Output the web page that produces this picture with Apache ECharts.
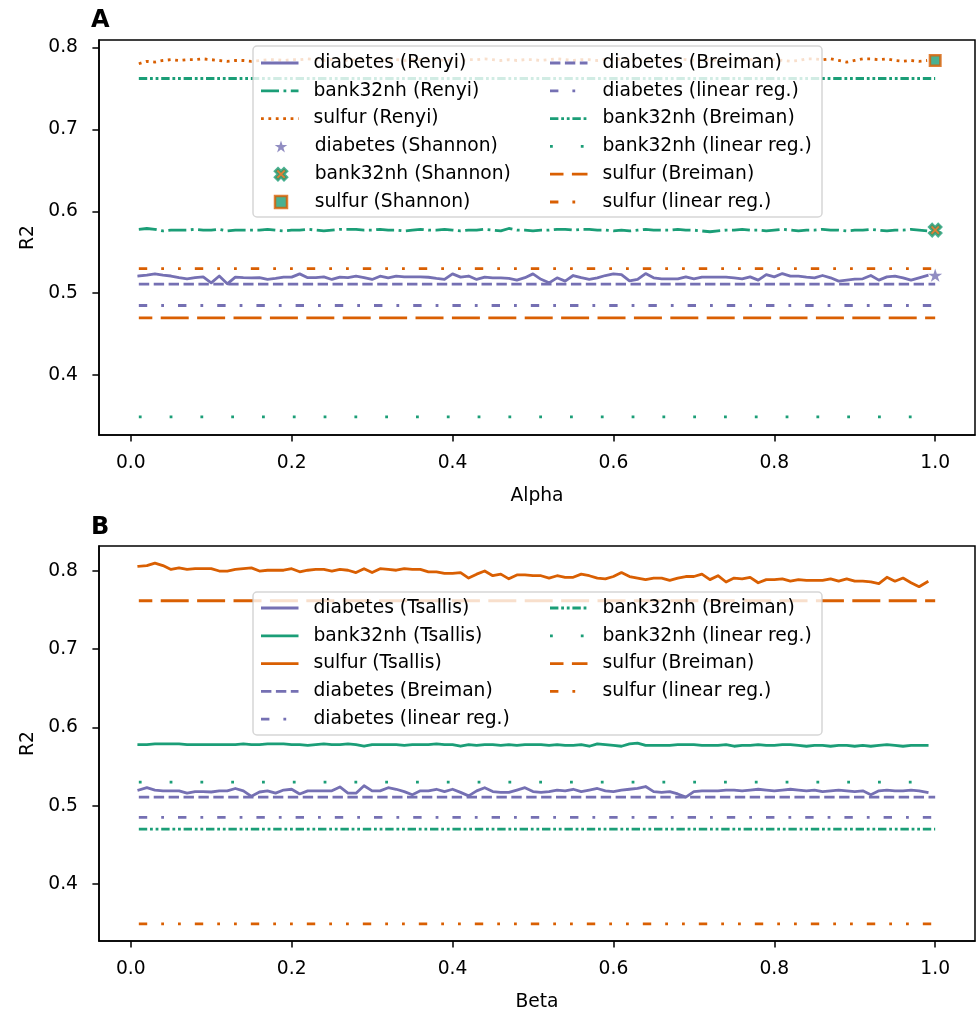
<!DOCTYPE html>
<html>
<head>
<meta charset="utf-8">
<script src="https://cdn.jsdelivr.net/npm/echarts@6/dist/echarts.min.js"></script>
<style>
  html, body { margin: 0; padding: 0; background: #fff; }
  #chart { width: 977px; height: 1015px; }
</style>
</head>
<body>
<div id="chart"></div>
<script>
// ---- data ----
var xTicks = [0, 0.2, 0.4, 0.6, 0.8, 1.0];
var yTicks = [0.4, 0.5, 0.6, 0.7, 0.8];
var constX = [0.01, 1.0];      // span of the reference (constant) lines
var shannonX = 1.0;

// parameter grid 0.01 .. 0.99
var grid01 = [];
for (var i = 1; i <= 99; i++) grid01.push(i / 100);

// Panel A (alpha)
var diabetesRenyi = [
  .521,.522,.5236,.522,.521,.519,.5176,.519,.520,.5127,
  .521,.5115,.5196,.519,.5188,.519,.5168,.518,.5196,.5196,
  .5236,.519,.519,.520,.5168,.5196,.519,.5208,.519,.5168,
  .5208,.5188,.5208,.520,.520,.520,.5195,.518,.5168,.5236,
  .5196,.521,.5168,.5196,.5188,.5188,.518,.516,.519,.5236,
  .517,.5127,.5188,.5148,.5216,.519,.5168,.5188,.5216,.5236,
  .5228,.515,.5168,.524,.5188,.5176,.5176,.5176,.520,.5176,
  .5196,.5196,.5196,.5196,.5188,.5176,.520,.516,.5228,.520,
  .524,.5208,.5208,.5196,.5188,.5216,.5188,.5148,.516,.5172,
  .5176,.5216,.516,.520,.5208,.5188,.516,.5188,.5216
];
var bank32nhRenyi = [
  .578,.579,.578,.576,.577,.577,.577,.578,.577,.577,
  .578,.576,.577,.577,.577,.577,.578,.577,.576,.577,
  .577,.578,.577,.576,.577,.578,.578,.578,.577,.577,
  .578,.577,.577,.576,.577,.578,.577,.577,.578,.577,
  .576,.577,.577,.578,.577,.576,.579,.577,.577,.576,
  .577,.577,.578,.578,.577,.578,.578,.577,.577,.576,
  .577,.576,.577,.578,.577,.577,.577,.578,.577,.577,
  .576,.575,.576,.577,.577,.578,.577,.577,.576,.577,
  .578,.577,.576,.577,.577,.578,.577,.577,.576,.577,
  .577,.578,.577,.576,.577,.577,.578,.577,.576
];
var sulfurRenyi = [
  .780,.783,.782,.784,.785,.784,.785,.785,.786,.785,
  .784,.783,.784,.784,.783,.784,.785,.785,.784,.785,
  .785,.786,.785,.784,.785,.785,.784,.785,.786,.785,
  .785,.784,.785,.784,.785,.785,.786,.785,.784,.785,
  .784,.785,.785,.786,.785,.784,.785,.784,.785,.785,
  .784,.785,.786,.785,.784,.785,.785,.784,.785,.785,
  .786,.785,.784,.785,.785,.784,.785,.786,.785,.784,
  .785,.785,.784,.785,.786,.785,.785,.784,.785,.785,
  .784,.783,.784,.786,.786,.785,.786,.784,.782,.784,
  .786,.786,.785,.786,.784,.783,.784,.783,.784
];
var shannonA = [0.522, 0.577, 0.784];   // diabetes, bank32nh, sulfur
var breimanA = [0.511, 0.762, 0.470];   // diabetes, bank32nh, sulfur
var linearA = [0.485, 0.349, 0.530];    // diabetes, bank32nh, sulfur

// Panel B (beta)
var diabetesTsallis = [
  .520,.523,.520,.519,.519,.519,.516,.518,.518,.5175,
  .519,.519,.522,.519,.512,.5175,.519,.516,.520,.521,
  .515,.519,.519,.519,.519,.524,.516,.516,.5255,.519,
  .519,.523,.521,.518,.514,.519,.519,.521,.518,.521,
  .517,.5125,.519,.523,.518,.517,.517,.520,.523,.518,
  .517,.518,.520,.519,.521,.518,.520,.522,.519,.518,
  .520,.521,.522,.5245,.518,.517,.518,.515,.511,.518,
  .519,.519,.519,.520,.520,.519,.520,.521,.520,.519,
  .520,.521,.520,.519,.520,.518,.519,.520,.519,.518,
  .519,.514,.519,.520,.519,.519,.520,.519,.517
];
var bank32nhTsallis = [
  .578,.578,.579,.579,.579,.579,.578,.578,.578,.578,
  .578,.578,.578,.579,.578,.578,.579,.579,.579,.578,
  .578,.577,.578,.579,.578,.578,.579,.578,.576,.578,
  .578,.578,.578,.577,.578,.578,.578,.579,.578,.578,
  .576,.578,.577,.578,.578,.577,.578,.577,.578,.578,
  .578,.577,.578,.577,.577,.578,.576,.579,.578,.577,
  .576,.579,.580,.577,.577,.577,.577,.578,.578,.578,
  .577,.577,.577,.578,.576,.577,.577,.578,.577,.577,
  .578,.578,.577,.576,.577,.577,.576,.577,.577,.576,
  .577,.576,.577,.578,.577,.576,.577,.577,.577
];
var sulfurTsallis = [
  .806,.807,.810,.807,.802,.804,.802,.803,.803,.803,
  .800,.800,.802,.803,.804,.800,.801,.801,.801,.803,
  .799,.801,.802,.802,.800,.802,.801,.798,.803,.798,
  .803,.802,.801,.803,.802,.802,.799,.799,.797,.797,
  .798,.791,.796,.800,.794,.796,.790,.795,.795,.794,
  .794,.791,.794,.792,.792,.796,.794,.791,.790,.793,
  .798,.793,.791,.789,.791,.791,.788,.791,.793,.793,
  .796,.789,.794,.786,.791,.790,.792,.785,.789,.789,
  .790,.787,.789,.788,.788,.788,.790,.787,.790,.787,
  .787,.786,.784,.792,.787,.791,.785,.780,.786
];
var breimanB = [0.511, 0.470, 0.762];   // diabetes, bank32nh, sulfur
var linearB = [0.485, 0.530, 0.349];    // diabetes, bank32nh, sulfur

// ---- styles ----
var C_DIAB = '#7570b3', C_BANK = '#1b9e77', C_SULF = '#d95f02';
var FONT = 'DejaVu Sans', FS = 18.7, LW = 2.8, HANDLE = 37.5;
var D_DASH = [10.4, 4.5];
var D_DASHDOT = [18, 4.5, 2.8, 4.5];
var D_DOT = [2.8, 4.6];
var D_LONG = [28, 8.4], D_LONG_OFF = 14.5;
var D_DASH_DOT = [8.4, 14, 2.8, 14];
var D_DASH_DOTDOT = [8.4, 14, 2.8, 14, 2.8, 14];
var D_TIGHT = [8.4, 2.8, 2.8, 2.8, 2.8, 2.8];
var D_SPARSE = [2.8, 28];

function zip(xs, ys) { return ys.map(function(y, k) { return [xs[k], y]; }); }
function flat(v) { return [[constX[0], v], [constX[1], v]]; }

// legend handle: dash pattern drawn as filled rectangles
function dashIcon(pattern, offset) {
  var h = LW, d = '';
  if (!pattern) {
    d = 'M0,0H' + HANDLE + 'V' + h + 'H0Z';
  } else {
    var x = -(offset || 0), k = 0;
    while (x < HANDLE) {
      var len = pattern[k % pattern.length];
      if (k % 2 === 0) {
        var a = Math.max(x, 0), b = Math.min(x + len, HANDLE);
        if (b > a) d += 'M' + a + ',0H' + b + 'V' + h + 'H' + a + 'Z';
      }
      x += len; k++;
    }
  }
  d += 'M0,0L0,' + h + 'ZM' + HANDLE + ',0L' + HANDLE + ',' + h + 'Z';
  return 'path://' + d;
}
function starPath() {
  var pts = [];
  for (var k = 0; k < 10; k++) {
    var r = k % 2 ? 0.382 : 1, a = Math.PI / 2 + k * Math.PI / 5;
    pts.push((10 + 10 * r * Math.cos(a)).toFixed(2) + ',' + (10 - 10 * r * Math.sin(a)).toFixed(2));
  }
  return 'path://M' + pts.join('L') + 'Z';
}
var STAR = starPath();
var XMARK = 'path://M2.5,0L5,2.5L7.5,0L10,2.5L7.5,5L10,7.5L7.5,10L5,7.5L2.5,10L0,7.5L2.5,5L0,2.5Z';
var SQUARE = 'path://M0,0H10V10H0Z';

function line(name, g, data, color, dash, offset) {
  return {
    name: name, type: 'line', xAxisIndex: g, yAxisIndex: g, data: data,
    symbol: 'none', showSymbol: false, silent: true, z: 2,
    itemStyle: { color: color },
    lineStyle: { color: color, width: LW, type: dash || 'solid', dashOffset: offset || 0,
                 cap: dash ? 'butt' : 'square', join: 'round' }
  };
}
function marker(name, g, value, symbol, size, style) {
  return {
    name: name, type: 'scatter', xAxisIndex: g, yAxisIndex: g, data: [[shannonX, value]],
    symbol: symbol, symbolSize: size, symbolKeepAspect: true, silent: true, z: 3,
    itemStyle: style
  };
}

var STYLE_X = { color: C_SULF, borderColor: C_BANK, borderWidth: 2.5 };
var STYLE_SQ = { color: C_BANK, borderColor: C_SULF, borderWidth: 2.5 };

var series = [
  line('diabetes (Renyi)', 0, zip(grid01, diabetesRenyi), C_DIAB),
  line('bank32nh (Renyi)', 0, zip(grid01, bank32nhRenyi), C_BANK, D_DASHDOT),
  line('sulfur (Renyi)', 0, zip(grid01, sulfurRenyi), C_SULF, D_DOT),
  line('diabetes (Breiman)', 0, flat(breimanA[0]), C_DIAB, D_DASH),
  line('diabetes (linear reg.)', 0, flat(linearA[0]), C_DIAB, D_DASH_DOT),
  line('bank32nh (Breiman)', 0, flat(breimanA[1]), C_BANK, D_TIGHT),
  line('bank32nh (linear reg.)', 0, flat(linearA[1]), C_BANK, D_SPARSE),
  line('sulfur (Breiman)', 0, flat(breimanA[2]), C_SULF, D_LONG, D_LONG_OFF),
  line('sulfur (linear reg.)', 0, flat(linearA[2]), C_SULF, D_DASH_DOTDOT),
  marker('diabetes (Shannon)', 0, shannonA[0], STAR, 14, { color: C_DIAB }),
  marker('bank32nh (Shannon)', 0, shannonA[1], XMARK, 12, STYLE_X),
  marker('sulfur (Shannon)', 0, shannonA[2], SQUARE, 10.5, STYLE_SQ),

  line('diabetes (Tsallis)', 1, zip(grid01, diabetesTsallis), C_DIAB),
  line('bank32nh (Tsallis)', 1, zip(grid01, bank32nhTsallis), C_BANK),
  line('sulfur (Tsallis)', 1, zip(grid01, sulfurTsallis), C_SULF),
  line('diabetes (Breiman)', 1, flat(breimanB[0]), C_DIAB, D_DASH),
  line('diabetes (linear reg.)', 1, flat(linearB[0]), C_DIAB, D_DASH_DOT),
  line('bank32nh (Breiman)', 1, flat(breimanB[1]), C_BANK, D_TIGHT),
  line('bank32nh (linear reg.)', 1, flat(linearB[1]), C_BANK, D_SPARSE),
  line('sulfur (Breiman)', 1, flat(breimanB[2]), C_SULF, D_LONG, D_LONG_OFF),
  line('sulfur (linear reg.)', 1, flat(linearB[2]), C_SULF, D_DASH_DOTDOT)
];

// ---- legends ----
function li(name, color, dash, offset) {
  return { name: name, icon: dashIcon(dash, offset), itemStyle: { color: color, borderWidth: 0 } };
}
function legend(left, top, h, data) {
  return {
    left: left, top: top, orient: 'vertical', padding: 0, z: 20,
    itemWidth: HANDLE, itemHeight: h, itemGap: 8.8, selectedMode: false,
    itemStyle: { borderWidth: 0 },
    textStyle: { fontFamily: FONT, fontSize: FS, color: '#000', lineHeight: 19, padding: [0, 0, 0, 10] },
    data: data
  };
}
var ROW = 27.8, MARK = 12;
var legends = [
  legend(261, 53.5, 19, [
    li('diabetes (Renyi)', C_DIAB), li('bank32nh (Renyi)', C_BANK, D_DASHDOT), li('sulfur (Renyi)', C_SULF, D_DOT)
  ]),
  // marker icons sit centred in the handle; the legend box starts at the icon
  legend(261 + (HANDLE - MARK) / 2, 53.5 + 3 * ROW, MARK, [
    { name: 'diabetes (Shannon)', icon: STAR, itemStyle: { color: C_DIAB, borderWidth: 0 } },
    { name: 'bank32nh (Shannon)', icon: XMARK, itemStyle: STYLE_X },
    { name: 'sulfur (Shannon)', icon: SQUARE, itemStyle: { color: C_BANK, borderColor: C_SULF, borderWidth: 2.5 } }
  ]),
  legend(550, 53.5, 19, [
    li('diabetes (Breiman)', C_DIAB, D_DASH), li('diabetes (linear reg.)', C_DIAB, D_DASH_DOT),
    li('bank32nh (Breiman)', C_BANK, D_TIGHT), li('bank32nh (linear reg.)', C_BANK, D_SPARSE),
    li('sulfur (Breiman)', C_SULF, D_LONG, D_LONG_OFF), li('sulfur (linear reg.)', C_SULF, D_DASH_DOTDOT)
  ]),
  legend(261, 598.5, 19, [
    li('diabetes (Tsallis)', C_DIAB), li('bank32nh (Tsallis)', C_BANK), li('sulfur (Tsallis)', C_SULF),
    li('diabetes (Breiman)', C_DIAB, D_DASH), li('diabetes (linear reg.)', C_DIAB, D_DASH_DOT)
  ]),
  legend(550, 598.5, 19, [
    li('bank32nh (Breiman)', C_BANK, D_TIGHT), li('bank32nh (linear reg.)', C_BANK, D_SPARSE),
    li('sulfur (Breiman)', C_SULF, D_LONG, D_LONG_OFF), li('sulfur (linear reg.)', C_SULF, D_DASH_DOTDOT)
  ])
];

// ---- axes ----
var axisText = { fontFamily: FONT, fontSize: FS, color: '#000' };
function xAxis(g, name) {
  return {
    type: 'value', gridIndex: g, min: -0.0395, max: 1.0495,
    name: name, nameLocation: 'middle', nameGap: 51.5, nameTextStyle: axisText,
    axisLine: { show: true, onZero: false, lineStyle: { color: '#000', width: 1.5 } },
    axisTick: { show: true, customValues: xTicks, length: 6.6, lineStyle: { color: '#000', width: 1.5 } },
    axisLabel: Object.assign({ customValues: xTicks, margin: 19, formatter: function(v) { return v.toFixed(1); } }, axisText),
    splitLine: { show: false }
  };
}
function yAxis(g, min, max) {
  return {
    type: 'value', gridIndex: g, min: min, max: max,
    name: 'R2', nameLocation: 'middle', nameGap: 60, nameRotate: 90, nameTextStyle: axisText,
    axisLine: { show: true, onZero: false, lineStyle: { color: '#000', width: 1.5 } },
    axisTick: { show: true, customValues: yTicks, length: 6.6, lineStyle: { color: '#000', width: 1.5 } },
    axisLabel: Object.assign({ customValues: yTicks, margin: 21, formatter: function(v) { return v.toFixed(1); } }, axisText),
    splitLine: { show: false }
  };
}
var frame = { show: true, borderColor: '#000', borderWidth: 1.5, backgroundColor: 'transparent' };
var letter = { fontFamily: FONT, fontSize: 24, fontWeight: 'bold', color: '#000' };

var chart = echarts.init(document.getElementById('chart'), null, { renderer: 'canvas' });
chart.setOption({
  animation: false,
  backgroundColor: '#fff',
  textStyle: { fontFamily: FONT },
  title: [
    { text: 'A', left: 91, top: 9, padding: 0, textStyle: letter },
    { text: 'B', left: 91, top: 516, padding: 0, textStyle: letter }
  ],
  grid: [
    Object.assign({ left: 99, top: 40, width: 876, height: 395 }, frame),
    Object.assign({ left: 99, top: 546, width: 876, height: 395 }, frame)
  ],
  xAxis: [xAxis(0, 'Alpha'), xAxis(1, 'Beta')],
  yAxis: [yAxis(0, 0.327, 0.809), yAxis(1, 0.327, 0.832)],
  legend: legends,
  graphic: [
    { type: 'rect', z: 15, shape: { x: 253, y: 46, width: 569, height: 171, r: 4 },
      style: { fill: 'rgba(255,255,255,0.8)', stroke: 'rgba(204,204,204,0.8)', lineWidth: 1.5 } },
    { type: 'rect', z: 15, shape: { x: 253, y: 592, width: 569, height: 143, r: 4 },
      style: { fill: 'rgba(255,255,255,0.8)', stroke: 'rgba(204,204,204,0.8)', lineWidth: 1.5 } }
  ],
  series: series
});
window.addEventListener('resize', function() { chart.resize(); });
</script>
</body>
</html>
